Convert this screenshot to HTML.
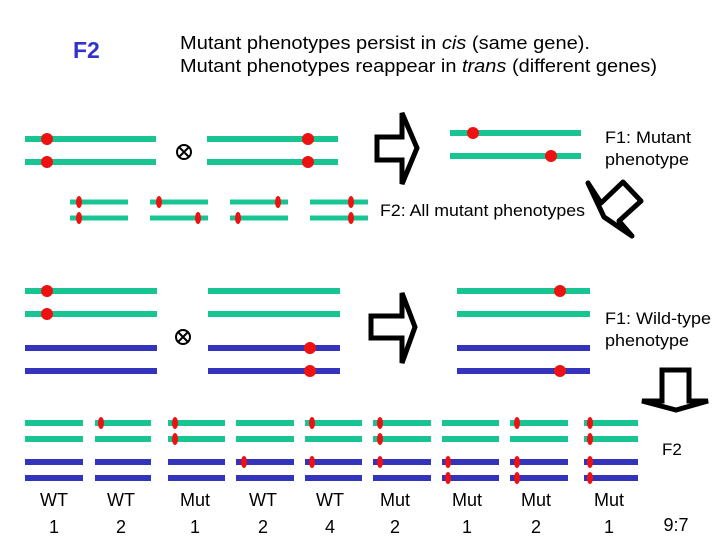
<!DOCTYPE html>
<html><head><style>body{margin:0;background:#fff}svg{display:block}text{font-family:"Liberation Sans",sans-serif}</style></head><body>
<svg width="720" height="540" viewBox="0 0 720 540" xmlns="http://www.w3.org/2000/svg">
<text x="73" y="58" font-size="23" font-weight="bold" fill="#3333cc">F2</text>
<text x="180" y="49" font-size="18" textLength="410" lengthAdjust="spacingAndGlyphs">Mutant phenotypes persist in <tspan font-style="italic">cis</tspan> (same gene).</text>
<text x="180" y="72" font-size="18" textLength="477" lengthAdjust="spacingAndGlyphs">Mutant phenotypes reappear in <tspan font-style="italic">trans</tspan> (different genes)</text>
<g stroke-width="6">
<line x1="25" y1="139" x2="156" y2="139" stroke="#19c493"/><line x1="25" y1="162" x2="156" y2="162" stroke="#19c493"/>
<line x1="207" y1="139" x2="338" y2="139" stroke="#19c493"/><line x1="207" y1="162" x2="338" y2="162" stroke="#19c493"/>
<line x1="450" y1="133" x2="581" y2="133" stroke="#19c493"/><line x1="450" y1="156" x2="581" y2="156" stroke="#19c493"/>
<g stroke="#19c493" stroke-width="5">
<line x1="70" y1="202" x2="128" y2="202"/><line x1="70" y1="218" x2="128" y2="218"/>
<line x1="150" y1="202" x2="208" y2="202"/><line x1="150" y1="218" x2="208" y2="218"/>
<line x1="230" y1="202" x2="288" y2="202"/><line x1="230" y1="218" x2="288" y2="218"/>
<line x1="310" y1="202" x2="368" y2="202"/><line x1="310" y1="218" x2="368" y2="218"/>
</g>
<line x1="25" y1="291" x2="157" y2="291" stroke="#19c493"/><line x1="25" y1="314" x2="157" y2="314" stroke="#19c493"/>
<line x1="25" y1="348" x2="157" y2="348" stroke="#3333bb"/><line x1="25" y1="371" x2="157" y2="371" stroke="#3333bb"/>
<line x1="208" y1="291" x2="340" y2="291" stroke="#19c493"/><line x1="208" y1="314" x2="340" y2="314" stroke="#19c493"/>
<line x1="208" y1="348" x2="340" y2="348" stroke="#3333bb"/><line x1="208" y1="371" x2="340" y2="371" stroke="#3333bb"/>
<line x1="457" y1="291" x2="590" y2="291" stroke="#19c493"/><line x1="457" y1="314" x2="590" y2="314" stroke="#19c493"/>
<line x1="457" y1="348" x2="590" y2="348" stroke="#3333bb"/><line x1="457" y1="371" x2="590" y2="371" stroke="#3333bb"/>
</g>
<g fill="#ee1111">
<circle cx="47" cy="139" r="6"/><circle cx="47" cy="162" r="6"/><circle cx="308" cy="139" r="6"/><circle cx="308" cy="162" r="6"/>
<circle cx="473" cy="133" r="6"/><circle cx="551" cy="156" r="6"/>
<ellipse cx="79" cy="202" rx="3" ry="6"/><ellipse cx="79" cy="218" rx="3" ry="6"/>
<ellipse cx="159" cy="202" rx="3" ry="6"/><ellipse cx="198" cy="218" rx="3" ry="6"/>
<ellipse cx="278" cy="202" rx="3" ry="6"/><ellipse cx="238" cy="218" rx="3" ry="6"/>
<ellipse cx="351" cy="202" rx="3" ry="6"/><ellipse cx="351" cy="218" rx="3" ry="6"/>
<circle cx="47" cy="291" r="6"/><circle cx="47" cy="314" r="6"/><circle cx="310" cy="348" r="6"/><circle cx="310" cy="371" r="6"/>
<circle cx="560" cy="291" r="6"/><circle cx="560" cy="371" r="6"/>
</g>
<g fill="none" stroke="#000" stroke-width="2"><circle cx="184" cy="152" r="7"/><path d="M179 147L189 157M189 147L179 157"/>
<circle cx="183" cy="337" r="7"/><path d="M178 332L188 342M188 332L178 342"/></g>
<g fill="none" stroke="#000" stroke-width="5" stroke-linejoin="miter">
<polygon points="377,137 402,137 402,113 417,148 402,184 402,160 377,160"/>
<polygon points="371,316 402,316 402,293 415,327 402,363 402,338 371,338"/>
<polygon points="662,370 689,370 689,401 708,401 676,410 642,401 662,401"/>
<polygon points="588,183 601,203 623,182 641,201 619,221 632,236 604,217" stroke-linejoin="round"/>
</g>
<g font-size="17">
<text x="380" y="216" textLength="205" lengthAdjust="spacingAndGlyphs">F2: All mutant phenotypes</text>
<text x="605" y="143" textLength="86" lengthAdjust="spacingAndGlyphs">F1: Mutant</text><text x="605" y="165" textLength="84" lengthAdjust="spacingAndGlyphs">phenotype</text>
<text x="605" y="324" textLength="106" lengthAdjust="spacingAndGlyphs">F1: Wild-type</text><text x="605" y="346" textLength="84" lengthAdjust="spacingAndGlyphs">phenotype</text>
<text x="662" y="455">F2</text>
</g>
<g stroke-width="6">
<g stroke="#19c493">
<path d="M25 423H83M95 423H151M168 423H225M236 423H294M305 423H362M373 423H431M442 423H499M510 423H568M584 423H638"/>
<path d="M25 439H83M95 439H151M168 439H225M236 439H294M305 439H362M373 439H431M442 439H499M510 439H568M584 439H638"/>
</g>
<g stroke="#3333bb">
<path d="M25 462H83M95 462H151M168 462H225M236 462H294M305 462H362M373 462H431M442 462H499M510 462H568M584 462H638"/>
<path d="M25 478H83M95 478H151M168 478H225M236 478H294M305 478H362M373 478H431M442 478H499M510 478H568M584 478H638"/>
</g></g>
<g fill="#ee1111">
<ellipse cx="101" cy="423" rx="3" ry="6"/>
<ellipse cx="175" cy="423" rx="3" ry="6"/><ellipse cx="175" cy="439" rx="3" ry="6"/>
<ellipse cx="244" cy="462" rx="3" ry="6"/>
<ellipse cx="312" cy="423" rx="3" ry="6"/><ellipse cx="312" cy="462" rx="3" ry="6"/>
<ellipse cx="380" cy="423" rx="3" ry="6"/><ellipse cx="380" cy="439" rx="3" ry="6"/><ellipse cx="380" cy="462" rx="3" ry="6"/>
<ellipse cx="448" cy="462" rx="3" ry="6"/><ellipse cx="448" cy="478" rx="3" ry="6"/>
<ellipse cx="517" cy="423" rx="3" ry="6"/><ellipse cx="517" cy="462" rx="3" ry="6"/><ellipse cx="517" cy="478" rx="3" ry="6"/>
<ellipse cx="590" cy="423" rx="3" ry="6"/><ellipse cx="590" cy="439" rx="3" ry="6"/><ellipse cx="590" cy="462" rx="3" ry="6"/><ellipse cx="590" cy="478" rx="3" ry="6"/>
</g>
<g font-size="18" text-anchor="middle">
<text x="54" y="506">WT</text><text x="121" y="506">WT</text><text x="195" y="506">Mut</text><text x="263" y="506">WT</text><text x="330" y="506">WT</text><text x="395" y="506">Mut</text><text x="467" y="506">Mut</text><text x="536" y="506">Mut</text><text x="609" y="506">Mut</text>
<text x="54" y="533">1</text><text x="121" y="533">2</text><text x="195" y="533">1</text><text x="263" y="533">2</text><text x="330" y="533">4</text><text x="395" y="533">2</text><text x="467" y="533">1</text><text x="536" y="533">2</text><text x="609" y="533">1</text>
<text x="676" y="531">9:7</text>
</g>
</svg>
</body></html>
